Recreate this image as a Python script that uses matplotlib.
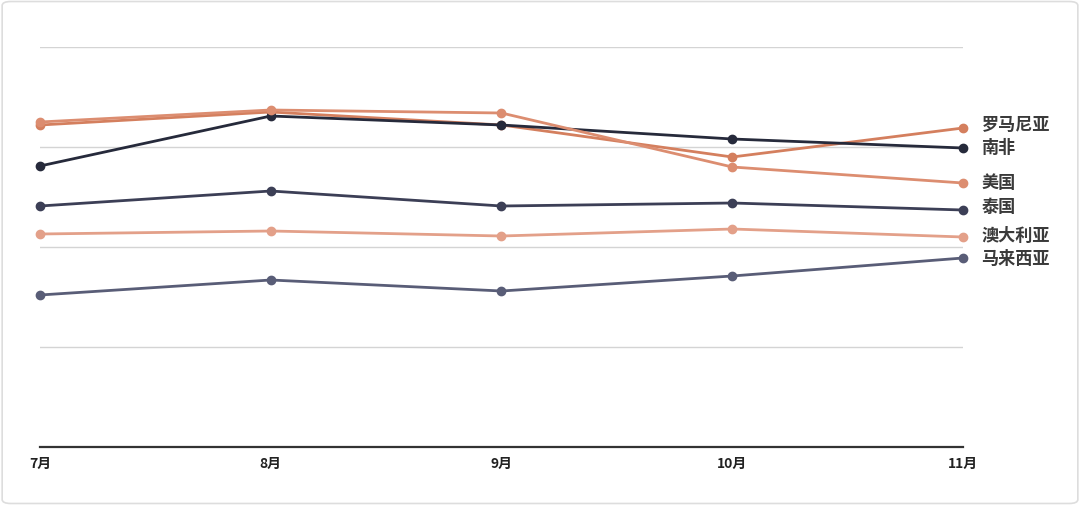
import matplotlib.pyplot as plt
from matplotlib.patches import FancyBboxPatch

plt.rcParams['font.family'] = ['Noto Sans CJK SC', 'DejaVu Sans']

months = ['7月', '8月', '9月', '10月', '11月']

romania = [3.22, 3.35, 3.22, 2.90, 3.19]
south_africa = [2.81, 3.31, 3.22, 3.08, 2.99]
usa = [3.25, 3.37, 3.34, 2.80, 2.64]
thailand = [2.41, 2.56, 2.41, 2.44, 2.37]
australia = [2.13, 2.16, 2.11, 2.18, 2.10]
malaysia = [1.52, 1.67, 1.56, 1.71, 1.89]

names = ['罗马尼亚', '南非', '美国', '泰国', '澳大利亚', '马来西亚']
series = [romania, south_africa, usa, thailand, australia, malaysia]
colors = ['#d47f5e', '#262a3b', '#dc8d70', '#3c3f56', '#e3a089', '#595d77']
label_y = [3.22, 2.99, 2.64, 2.40, 2.11, 1.88]

fig = plt.figure(figsize=(10.8, 5.05), dpi=100)
fig.patch.set_facecolor('white')
border = FancyBboxPatch((0.002, 0.003), 0.996, 0.994, boxstyle='round,pad=0,rounding_size=0.008',
                        transform=fig.transFigure, fill=False, edgecolor='#dddddd', linewidth=1.2)
fig.patches.append(border)

ax = fig.add_axes([40 / 1080, 1 - 447 / 505, 923 / 1080, 400 / 505])
ax.patch.set_alpha(0)
x = list(range(len(months)))

for vals, c in zip(series, colors):
    ax.plot(x, vals, color=c, linewidth=2.0, marker='o', markersize=6, zorder=3, clip_on=False)

for name, ly in zip(names, label_y):
    ax.text(4 + 0.08, ly, name, ha='left', va='center', fontsize=12.3, fontweight='bold',
            color='#3a3a3a')

ax.set_xlim(0, 4)
ax.set_ylim(0, 4)
ax.set_yticks([1, 2, 3, 4])
ax.yaxis.grid(True, color='#d4d4d4', linewidth=1)
ax.set_axisbelow(True)
ax.tick_params(axis='y', left=False, labelleft=False)
ax.set_xticks(x)
ax.set_xticklabels(months, fontsize=10, color='#222222', fontweight='bold')
ax.tick_params(axis='x', length=0, pad=7)
for s in ['top', 'right', 'left']:
    ax.spines[s].set_visible(False)
ax.spines['bottom'].set_color('#333333')
ax.spines['bottom'].set_linewidth(1.6)

fig.savefig('out.png', dpi=100)
